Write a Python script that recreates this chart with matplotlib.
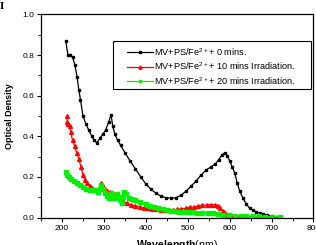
import matplotlib
matplotlib.use("Agg")
import matplotlib.pyplot as plt
from matplotlib.ticker import MultipleLocator
from matplotlib.patches import Rectangle

plt.rcParams['font.family'] = ['Liberation Sans', 'DejaVu Sans']
plt.rcParams['mathtext.fontset'] = 'custom'
plt.rcParams['mathtext.rm'] = 'Liberation Sans'
plt.rcParams['mathtext.bf'] = 'Liberation Sans:bold'

black_x = [209, 214, 219, 225, 231, 236, 240, 244, 250, 257, 264, 271, 277, 283, 290, 297, 304, 311, 317,
           321, 326, 333, 340, 350, 362, 375, 388, 400, 412, 424, 436, 448, 460, 472, 484, 496, 508, 520,
           532, 544, 556, 566, 574, 582, 588, 594, 600, 606, 612, 618, 624, 632, 640, 648, 656, 664, 672,
           680, 690, 700, 710]
black_y = [0.87, 0.80, 0.80, 0.79, 0.75, 0.69, 0.63, 0.58, 0.50, 0.46, 0.43, 0.40, 0.38, 0.368, 0.39, 0.41,
           0.43, 0.47, 0.505, 0.45, 0.41, 0.38, 0.355, 0.32, 0.28, 0.24, 0.20, 0.165, 0.14, 0.12, 0.105,
           0.098, 0.095, 0.098, 0.11, 0.13, 0.155, 0.18, 0.21, 0.235, 0.25, 0.265, 0.285, 0.31, 0.318,
           0.305, 0.28, 0.25, 0.22, 0.17, 0.13, 0.095, 0.065, 0.045, 0.035, 0.028, 0.022, 0.018, 0.012,
           0.008, 0.005]

red_x = [211, 213, 215, 218, 221, 225, 230, 235, 240, 245, 250, 255, 260, 266, 272, 279, 285, 290, 293,
         297, 302, 308, 315, 322, 330, 338, 346, 355, 365, 375, 385, 395, 405, 415, 425, 435, 445, 455,
         465, 475, 485, 495, 505, 515, 525, 535, 545, 555, 565, 572, 578, 584, 590, 597, 605, 615, 625,
         640, 655, 670, 685, 700, 715]
red_y = [0.50, 0.47, 0.46, 0.45, 0.42, 0.38, 0.35, 0.32, 0.29, 0.25, 0.21, 0.185, 0.17, 0.155, 0.145,
         0.138, 0.13, 0.15, 0.168, 0.155, 0.14, 0.132, 0.125, 0.115, 0.105, 0.095, 0.08, 0.07, 0.063,
         0.058, 0.052, 0.048, 0.045, 0.042, 0.04, 0.038, 0.037, 0.037, 0.038, 0.04, 0.043, 0.046, 0.05,
         0.053, 0.056, 0.06, 0.062, 0.063, 0.063, 0.058, 0.045, 0.03, 0.02, 0.012, 0.008, 0.006, 0.005,
         0.004, 0.004, 0.003, 0.003, 0.002, 0.002]

green_x = [209, 213, 217, 222, 228, 235, 242, 250, 258, 266, 273, 279, 285, 290, 293, 297, 303, 308, 311,
           314, 317, 320, 323, 327, 331, 335, 339, 343, 346, 348, 352, 359, 367, 375, 387, 400, 410, 420,
           430, 440, 450, 460, 470, 480, 490, 500, 510, 522, 535, 548, 560, 572, 585, 598, 612, 626, 640,
           655, 670, 685, 700, 720]
green_y = [0.226, 0.21, 0.20, 0.19, 0.178, 0.168, 0.158, 0.15, 0.142, 0.138, 0.136, 0.135, 0.127, 0.14,
           0.16, 0.14, 0.119, 0.105, 0.095, 0.11, 0.12, 0.105, 0.095, 0.108, 0.116, 0.1, 0.086, 0.07, 0.1,
           0.127, 0.115, 0.095, 0.09, 0.085, 0.078, 0.065, 0.055, 0.05, 0.045, 0.04, 0.037, 0.034, 0.031,
           0.029, 0.027, 0.026, 0.025, 0.024, 0.023, 0.022, 0.02, 0.018, 0.015, 0.012, 0.01, 0.009, 0.008,
           0.007, 0.006, 0.005, 0.005, 0.004]

labels = [r"MV+PS/Fe$^{2+}$+ 0 mins.",
          r"MV+PS/Fe$^{2+}$+ 10 mins Irradiation.",
          r"MV+PS/Fe$^{2+}$+ 20 mins Irradiation."]

fig = plt.figure(figsize=(3.16, 2.45), dpi=100)
ax = fig.add_axes([0.130, 0.112, 0.862, 0.829])

ax.plot(black_x, black_y, color='black', lw=0.9, marker='s', ms=1.8, label=labels[0])
ax.plot(red_x, red_y, color='#ff0000', lw=0.9, marker='^', ms=2.8, label=labels[1])
ax.plot(green_x, green_y, color='#00ee00', lw=0.9, marker='s', ms=2.3, label=labels[2])

ax.set_xlim(150, 800)
ax.set_ylim(0, 1.0)
ax.xaxis.set_major_locator(MultipleLocator(100))
ax.xaxis.set_minor_locator(MultipleLocator(50))
ax.yaxis.set_major_locator(MultipleLocator(0.2))
ax.yaxis.set_minor_locator(MultipleLocator(0.1))
ax.tick_params(axis='both', which='major', direction='out', length=3, width=0.8, labelsize=6, pad=2)
ax.tick_params(axis='both', which='minor', direction='out', length=2, width=0.6)
ax.set_yticklabels([f"{v:.1f}" for v in ax.get_yticks()])
for s in ax.spines.values():
    s.set_linewidth(0.9)

ax.set_ylabel("Optical Density", fontsize=6.5, fontweight='bold', labelpad=6)
ax.set_xlabel(r"$\mathbf{Wavelength}$(nm)", fontsize=7.6, labelpad=4.5)

# legend frame drawn separately
ax.add_patch(Rectangle((0.2655, 0.6345), 0.726, 0.2335, transform=ax.transAxes,
                       facecolor='white', edgecolor='black', lw=0.8, zorder=4))
leg = ax.legend(loc='upper left', bbox_to_anchor=(0.316, 0.845), borderaxespad=0, borderpad=0,
                fontsize=6.6, frameon=False, handlelength=2.8, handletextpad=0.15,
                labelspacing=0.3, markerscale=0.8)
leg.set_zorder(5)

fig.text(0.0, 0.975, "I", fontsize=8, fontweight='bold', family='Liberation Serif', va='center')

fig.savefig("out.png", dpi=100)
